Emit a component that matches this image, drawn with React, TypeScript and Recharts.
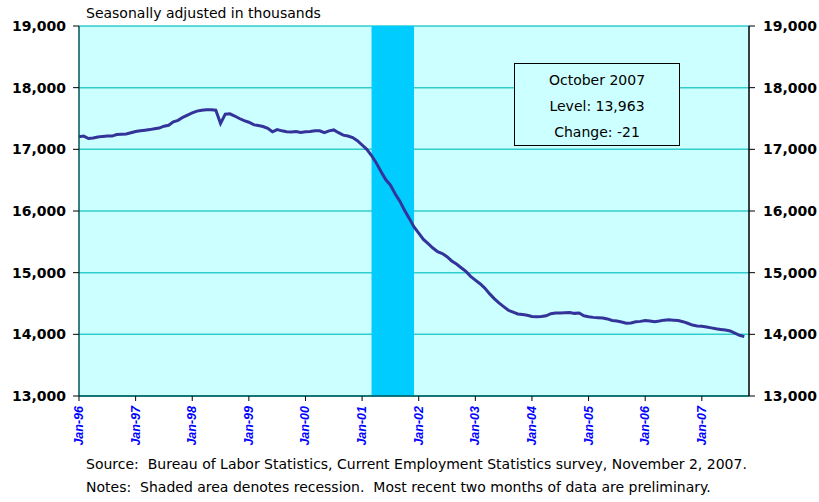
import { ComposedChart, Line, XAxis, YAxis, CartesianGrid, ReferenceArea } from 'recharts'

// monthly employment, Jan-96 .. Oct-07 (thousands)
const employment = [
  // 1996
  17205, 17215, 17175, 17185, 17200, 17210, 17215, 17215, 17240, 17245, 17250, 17270,
  // 1997
  17290, 17300, 17310, 17320, 17335, 17345, 17375, 17390, 17445, 17470, 17520, 17555,
  // 1998
  17590, 17620, 17635, 17640, 17640, 17635, 17420, 17570, 17575, 17540, 17500, 17465,
  // 1999
  17440, 17400, 17385, 17370, 17340, 17285, 17320, 17300, 17285, 17280, 17290, 17275,
  // 2000
  17285, 17290, 17300, 17300, 17270, 17300, 17315, 17270, 17230, 17215, 17190, 17140,
  // 2001
  17070, 17000, 16900, 16780, 16640, 16510, 16420, 16280, 16160, 16010, 15880, 15740,
  // 2002
  15640, 15540, 15470, 15400, 15340, 15310, 15260, 15190, 15140, 15080, 15020, 14940,
  // 2003
  14880, 14820, 14750, 14660, 14580, 14510, 14450, 14390, 14360, 14330, 14320, 14310,
  // 2004
  14290, 14285, 14290, 14300, 14335, 14345, 14345, 14350, 14355, 14340, 14345, 14300,
  // 2005
  14285, 14275, 14270, 14265, 14250, 14225, 14215, 14200, 14180, 14185, 14205, 14210,
  // 2006
  14225, 14215, 14205, 14215, 14230, 14235, 14230, 14225, 14205, 14180, 14150, 14135,
  // 2007
  14130, 14120, 14105, 14090, 14080, 14070, 14055, 14020, 13984, 13963,
]

const yearLabels = ['Jan-96', 'Jan-97', 'Jan-98', 'Jan-99', 'Jan-00', 'Jan-01', 'Jan-02', 'Jan-03', 'Jan-04', 'Jan-05', 'Jan-06', 'Jan-07']
const yTicks = [13000, 14000, 15000, 16000, 17000, 18000, 19000]

// recession: Mar-01 .. Dec-01 (month index from Jan-96)
const recessionStart = 62
const recessionEnd = 71

const data = employment.map((v, i) => ({ i, v }))
const xTicks = yearLabels.map((_, k) => k * 12)

const textFont = '"DejaVu Sans", Verdana, sans-serif'

const XTick = (props: any) => {
  const { x, y, payload } = props
  const label = yearLabels[Math.round(payload.value / 12)]
  return (
    <g transform={`translate(${x},${y})`}>
      <text
        transform="rotate(-90)"
        textAnchor="end"
        x={-3}
        y={4}
        fill="#0000FF"
        fontSize={12.5}
        fontWeight="bold"
        fontStyle="italic"
        fontFamily="'Liberation Sans', Arial, sans-serif"
      >
        {label}
      </text>
    </g>
  )
}

const yTickStyle = { fill: '#000', fontSize: 14, fontWeight: 'bold', fontFamily: textFont }
const fmt = (v: number) => v.toLocaleString('en-US')

export default function App() {
  return (
    <div style={{ position: 'absolute', left: 0, top: 0, width: 819, height: 502, background: '#fff', fontFamily: textFont }}>
      <ComposedChart width={819} height={502} data={data} margin={{ top: 26, right: 0, bottom: 46, left: 0 }}>
        <CartesianGrid yAxisId="left" vertical={false} fill="#CCFFFF" stroke="#33CCCC" strokeWidth={1.5} />
        <XAxis
          dataKey="i"
          type="number"
          domain={[0, 142]}
          ticks={xTicks}
          interval={0}
          height={60}
          tick={<XTick />}
          tickSize={5}
          tickMargin={2}
          axisLine={{ stroke: '#005555', strokeWidth: 1.5 }}
          tickLine={{ stroke: '#000' }}
        />
        <YAxis
          yAxisId="left"
          domain={[13000, 19000]}
          ticks={yTicks}
          width={79}
          tick={yTickStyle}
          tickFormatter={fmt}
          tickSize={6}
          tickMargin={7}
          axisLine={{ stroke: '#005555', strokeWidth: 1.5 }}
          tickLine={{ stroke: '#000' }}
        />
        <YAxis
          yAxisId="right"
          orientation="right"
          domain={[13000, 19000]}
          ticks={yTicks}
          width={70}
          tick={yTickStyle}
          tickFormatter={fmt}
          tickSize={6}
          tickMargin={8}
          axisLine={{ stroke: '#000', strokeWidth: 1.5 }}
          tickLine={{ stroke: '#000' }}
        />
        <ReferenceArea
          yAxisId="left"
          x1={recessionStart}
          x2={recessionEnd}
          y1={13000}
          y2={19000}
          fill="#00CCFF"
          fillOpacity={1}
          stroke="none"
        />
        <Line
          yAxisId="right"
          type="linear"
          dataKey="v"
          stroke="none"
          dot={false}
          activeDot={false}
          legendType="none"
          isAnimationActive={false}
        />
        <Line
          yAxisId="left"
          type="linear"
          dataKey="v"
          stroke="#333399"
          strokeWidth={3}
          dot={false}
          isAnimationActive={false}
        />
      </ComposedChart>

      <div style={{ position: 'absolute', left: 86, top: 5, fontSize: 14, color: '#000', whiteSpace: 'pre' }}>
        Seasonally adjusted in thousands
      </div>

      <div
        style={{
          position: 'absolute',
          left: 514,
          top: 63,
          width: 166,
          height: 83,
          border: '1px solid #000',
          background: '#CCFFFF',
          fontSize: 14,
          textAlign: 'center',
          lineHeight: '26px',
          paddingTop: 3,
          boxSizing: 'border-box',
        }}
      >
        <div>October 2007</div>
        <div>Level: 13,963</div>
        <div>Change: -21</div>
      </div>

      <div style={{ position: 'absolute', left: 86, top: 453, fontSize: 14, whiteSpace: 'pre', lineHeight: '23px' }}>
        <div>Source:  Bureau of Labor Statistics, Current Employment Statistics survey, November 2, 2007.</div>
        <div>Notes:  Shaded area denotes recession.  Most recent two months of data are preliminary.</div>
      </div>
    </div>
  )
}
